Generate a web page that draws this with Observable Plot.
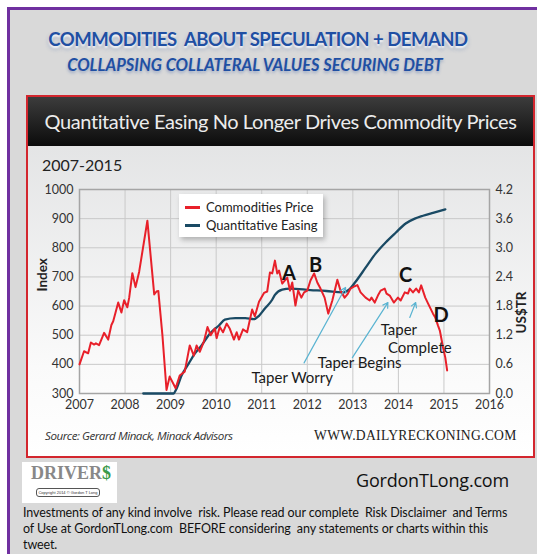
<!DOCTYPE html>
<html><head><meta charset="utf-8">
<script src="https://cdn.jsdelivr.net/npm/d3@7"></script>
<script src="https://cdn.jsdelivr.net/npm/@observablehq/plot@0.6"></script>
<style>
html,body{margin:0;padding:0;background:#fff;width:537px;height:554px;overflow:hidden;font-family:Lato,"Open Sans",sans-serif;}
#frame{position:absolute;left:7px;top:7px;width:540px;height:560px;border-left:3px solid #7030a0;border-top:3px solid #7030a0;background:#d9d9d9;}
.abs{position:absolute;white-space:nowrap;}
#t1{left:0;width:496px;top:18px;text-align:center;font:bold 18.5px Lato,sans-serif;color:#1f4fa3;text-shadow:0 2px 2px rgba(255,255,255,.9),0 3px 4px rgba(80,110,170,.45);letter-spacing:-0.5px}
#t2{left:0;width:490px;top:45px;text-align:center;font:italic bold 16.5px Lato,sans-serif;color:#1f4fa3;text-shadow:0 2px 3px rgba(80,110,170,.45)}
#box{position:absolute;left:26px;top:95px;width:505px;height:359px;border:2px solid #d3262e;background:linear-gradient(#dfe0e1,#fafafa 75%,#fff);}
#hdr{position:absolute;left:0;top:0;width:505px;height:49px;background:linear-gradient(#3c3c3c,#0b0b0b);color:#ececec;font:20px Lato,sans-serif;line-height:49px;text-align:center;letter-spacing:-0.4px;white-space:nowrap}
#plot{position:absolute;left:0;top:49px;}
#yr{left:14px;top:58px;font:16px Lato,sans-serif;color:#222}
#legend{position:absolute;left:151px;top:97px;width:144px;height:43px;background:#fff;box-shadow:2px 3px 5px rgba(0,0,0,.25);font:13px Lato,sans-serif;color:#222}
.li{position:absolute;left:6px;height:16px;line-height:16px}
.sw{display:inline-block;width:15px;height:3px;vertical-align:middle;margin-right:6px;position:relative;top:-1px}
#src{left:17px;top:331px;font:italic 11.6px "Open Sans",sans-serif;color:#333;letter-spacing:-0.45px}
#web{left:286px;top:331px;font:13.6px "Liberation Serif",serif;color:#222;letter-spacing:0.3px}
#logo{position:absolute;left:22px;top:462px;width:95px;height:41px;background:#fff;}
#logo .d{position:absolute;left:9px;top:1px;font:bold 18px "Liberation Serif",serif;color:#888;}
#logo .d span{color:#3a9a4a}
#logo .c{position:absolute;left:14px;top:26px;width:62px;height:7px;border:1px solid #555;border-radius:3px;font:4px sans-serif;color:#333;text-align:center;line-height:7px;overflow:hidden}
#gtl{left:356px;top:468px;font:18px "Open Sans",sans-serif;color:#111;letter-spacing:-0.2px}
#disc{left:23px;top:505px;font:12.5px Lato,sans-serif;color:#111;line-height:16px;letter-spacing:-0.1px}
</style></head>
<body>
<div id="frame">
  <div class="abs" id="t1">COMMODITIES&nbsp; ABOUT SPECULATION + DEMAND</div>
  <div class="abs" id="t2">COLLAPSING COLLATERAL VALUES SECURING DEBT</div>
</div>
<div id="box">
  <div id="hdr">Quantitative Easing No Longer Drives Commodity Prices</div>
  <div class="abs" id="yr">2007-2015</div>
  <div id="plot"></div>
  <div id="legend">
    <div class="li" style="top:5px"><span class="sw" style="background:#e8202a"></span>Commodities Price</div>
    <div class="li" style="top:23px"><span class="sw" style="background:#1a4a64"></span>Quantitative Easing</div>
  </div>
  <div class="abs" id="src">Source: Gerard Minack, Minack Advisors</div>
  <div class="abs" id="web">WWW.DAILYRECKONING.COM</div>
</div>
<div id="logo"><div class="d">DRIVER<span>$</span></div><div class="c">Copyright 2014 © Gordon T Long</div></div>
<div class="abs" id="gtl">GordonTLong.com</div>
<div class="abs" id="disc">Investments of any kind involve&nbsp; risk. Please read our complete&nbsp; Risk Disclaimer&nbsp; and Terms<br>of Use at GordonTLong.com&nbsp; BEFORE considering&nbsp; any statements or charts within this<br>tweet.</div>
<script>
// Commodities price index (left axis)
const priceYears = [2007.00,2007.10,2007.19,2007.25,2007.32,2007.36,2007.43,2007.52,2007.54,2007.63,2007.70,2007.74,2007.85,2007.92,2007.98,2008.05,2008.09,2008.16,2008.23,2008.31,2008.49,2008.64,2008.69,2008.73,2008.82,2008.91,2008.98,2009.11,2009.20,2009.31,2009.42,2009.51,2009.57,2009.64,2009.73,2009.81,2009.88,2009.97,2010.01,2010.08,2010.15,2010.23,2010.30,2010.39,2010.45,2010.50,2010.59,2010.68,2010.79,2010.85,2010.94,2011.05,2011.12,2011.18,2011.23,2011.29,2011.34,2011.38,2011.45,2011.56,2011.62,2011.67,2011.74,2011.80,2011.87,2011.93,2012.00,2012.07,2012.15,2012.22,2012.29,2012.38,2012.46,2012.55,2012.66,2012.73,2012.82,2012.88,2012.95,2013.04,2013.10,2013.17,2013.28,2013.37,2013.41,2013.48,2013.55,2013.61,2013.70,2013.74,2013.81,2013.90,2013.99,2014.05,2014.14,2014.21,2014.25,2014.32,2014.39,2014.45,2014.50,2014.59,2014.65,2014.76,2014.81,2014.87,2014.91,2014.98,2015.03,2015.07];
const priceValues = [400,445,438,475,468,472,466,500,508,485,535,548,612,578,620,596,628,713,665,718,893,640,650,652,500,312,358,318,362,375,465,430,465,443,478,528,500,523,490,528,510,540,522,485,510,485,520,510,588,565,615,645,650,715,712,756,712,722,677,698,653,681,602,653,629,647,653,688,712,681,660,629,574,619,690,653,629,640,660,668,672,647,629,619,629,612,636,653,660,643,636,612,629,619,647,643,660,647,660,647,671,629,609,574,561,533,516,458,423,379];
// Quantitative easing, US$ trillions (right axis)
const qeYears = [2008.40,2009.06,2009.13,2009.24,2009.40,2009.53,2009.68,2009.86,2010.06,2010.19,2010.42,2010.64,2010.83,2010.94,2011.07,2011.23,2011.29,2011.45,2011.62,2012.07,2012.42,2012.77,2012.93,2013.06,2013.28,2013.50,2013.72,2013.94,2014.16,2014.36,2014.54,2014.76,2015.03];
const qeValues = [0.00,0.00,0.10,0.37,0.62,0.82,0.99,1.23,1.40,1.52,1.55,1.55,1.53,1.60,1.75,1.93,2.03,2.14,2.16,2.13,2.11,2.08,2.15,2.30,2.59,2.88,3.11,3.31,3.50,3.60,3.66,3.72,3.79];
// Axis ticks
const yearTicks = [2007,2008,2009,2010,2011,2012,2013,2014,2015,2016];
const indexTicks = [300,400,500,600,700,800,900,1000];
const qeTicks = [0.0,0.6,1.2,1.8,2.4,3.0,3.6,4.2];
// Annotations
const letterText = ["A","B","C","D"];
const letterYears = [2011.60,2012.18,2014.16,2014.94];
const letterValues = [712,739,705,568];
const noteText = ["Taper Worry","Taper Begins","Taper","Complete"];
const noteYears = [2011.67,2013.15,2014.01,2014.47];
const noteValues = [351,403,516,454];
const arrowFromYears = [2011.93,2012.99,2014.25];
const arrowFromValues = [405,423,561];
const arrowToYears = [2012.84,2013.77,2014.38];
const arrowToValues = [664,612,612];

const qeMax = 4.2, idxMin = 300, idxMax = 1000;
const qeToIdx = v => idxMin + v * (idxMax - idxMin) / qeMax;

const price = priceYears.map((x,i)=>({x, y: priceValues[i]}));
const qe = qeYears.map((x,i)=>({x, y: qeToIdx(qeValues[i])}));
const letters = letterText.map((t,i)=>({t, x: letterYears[i], y: letterValues[i]}));
const notes = noteText.map((t,i)=>({t, x: noteYears[i], y: noteValues[i]}));
const arrows = arrowFromYears.map((x1,i)=>({x1, y1: arrowFromValues[i], x2: arrowToYears[i], y2: arrowToValues[i]}));

const chart = Plot.plot({
  width: 505, height: 300,
  marginLeft: 51, marginRight: 44, marginTop: 43, marginBottom: 53,
  style: {background: "transparent", fontFamily: "Lato, 'Open Sans', sans-serif", fontSize: "12.5px", color: "#333"},
  x: {domain: [2007, 2016]},
  y: {domain: [idxMin, idxMax]},
  marks: [
    Plot.gridX(yearTicks, {stroke: "#c9c9c9", strokeOpacity: 1}),
    Plot.gridY(indexTicks, {stroke: "#c9c9c9", strokeOpacity: 1}),
    Plot.frame({stroke: "#a5a5a5", strokeWidth: 1.5}),
    Plot.axisX(yearTicks, {tickSize: 0, tickPadding: 7, tickFormat: "d", label: null}),
    Plot.axisY(indexTicks, {anchor: "left", tickSize: 0, tickPadding: 6, tickFormat: "d", label: null}),
    Plot.axisY(indexTicks, {anchor: "right", tickSize: 0, tickPadding: 6, label: null,
      tickFormat: (d, i) => qeTicks[i].toFixed(1)}),
    Plot.text(["Index"], {frameAnchor: "left", dx: -37, rotate: -90, fontWeight: "bold", fontSize: 13.5, fill: "#222"}),
    Plot.text(["US$TR"], {frameAnchor: "right", dx: 32, rotate: -90, fontWeight: "bold", fontSize: 13.5, fill: "#222"}),
    Plot.line(qe, {x: "x", y: "y", stroke: "#1a4a64", strokeWidth: 2.3, curve: "monotone-x"}),
    Plot.line(price, {x: "x", y: "y", stroke: "#e8202a", strokeWidth: 2}),
    Plot.arrow(arrows, {x1: "x1", y1: "y1", x2: "x2", y2: "y2", stroke: "#5ab4d2", strokeWidth: 1.2, headLength: 7, bend: false}),
    Plot.text(notes, {x: "x", y: "y", text: "t", fontSize: 15, fill: "#1a1a1a"}),
    Plot.text(letters, {x: "x", y: "y", text: "t", fontSize: 20, fontWeight: "bold", fill: "#111"})
  ]
});
document.getElementById("plot").appendChild(chart);
</script>
</body></html>
